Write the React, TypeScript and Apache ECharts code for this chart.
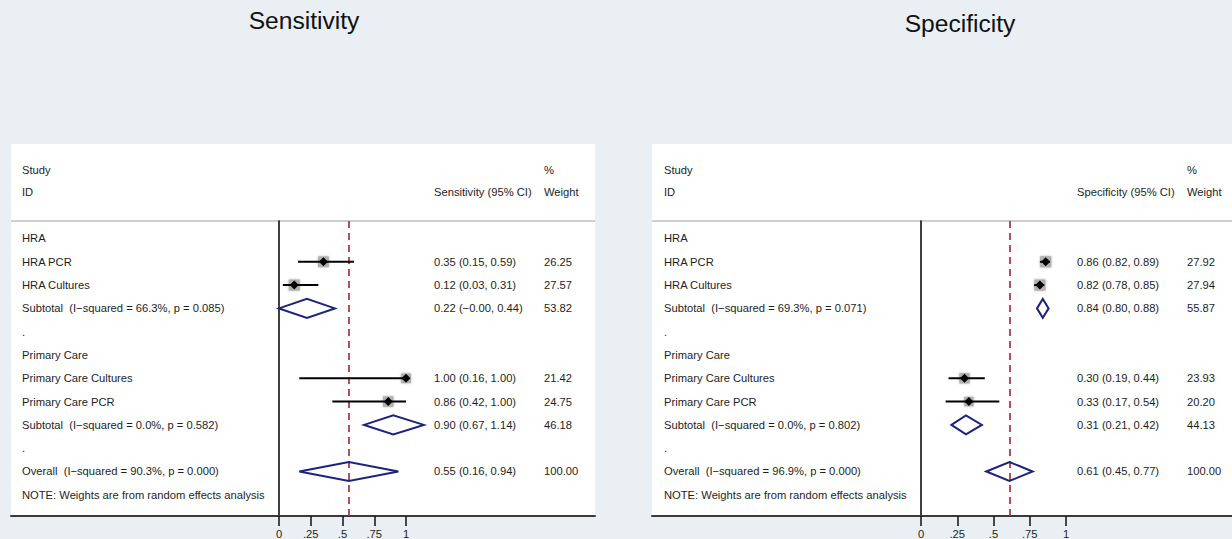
import React, { useEffect, useRef } from "react";
import * as echarts from "echarts";

// ---------- data ----------
const tickValues = [0, 0.25, 0.5, 0.75, 1];
const tickLabels = ["0", ".25", ".5", ".75", "1"];

const sensRowLabels = [
  "HRA",
  "HRA PCR",
  "HRA Cultures",
  "Subtotal  (I−squared = 66.3%, p = 0.085)",
  ".",
  "Primary Care",
  "Primary Care Cultures",
  "Primary Care PCR",
  "Subtotal  (I−squared = 0.0%, p = 0.582)",
  ".",
  "Overall  (I−squared = 90.3%, p = 0.000)",
  "NOTE: Weights are from random effects analysis",
];
const specRowLabels = [
  "HRA",
  "HRA PCR",
  "HRA Cultures",
  "Subtotal  (I−squared = 69.3%, p = 0.071)",
  ".",
  "Primary Care",
  "Primary Care Cultures",
  "Primary Care PCR",
  "Subtotal  (I−squared = 0.0%, p = 0.802)",
  ".",
  "Overall  (I−squared = 96.9%, p = 0.000)",
  "NOTE: Weights are from random effects analysis",
];

// rows (1-based) that carry an estimate, and whether it is a pooled diamond
const markRows = [2, 3, 4, 7, 8, 9, 11];
const markPooled = [0, 0, 1, 0, 0, 1, 1];

const sensEst = [0.35, 0.12, 0.22, 1.0, 0.86, 0.9, 0.55];
const sensLo = [0.15, 0.03, -0.0, 0.16, 0.42, 0.67, 0.16];
const sensHi = [0.59, 0.31, 0.44, 1.0, 1.0, 1.14, 0.94];
const sensWeight = [26.25, 27.57, 53.82, 21.42, 24.75, 46.18, 100.0];

const specEst = [0.86, 0.82, 0.84, 0.3, 0.33, 0.31, 0.61];
const specLo = [0.82, 0.78, 0.8, 0.19, 0.17, 0.21, 0.45];
const specHi = [0.89, 0.85, 0.88, 0.44, 0.54, 0.42, 0.77];
const specWeight = [27.92, 27.94, 55.87, 23.93, 20.2, 44.13, 100.0];

// ---------- styling ----------
const FONT = '"Liberation Sans", Arial, Helvetica, sans-serif';
const TXT = "#1e1e1e";
const NAVY = "#1b237c";
const BG = "#e9eff2";
const FS = 11.2;

function fmt(v: number): string {
  const neg = v < 0 || Object.is(v, -0);
  return (neg ? "−" : "") + Math.abs(v).toFixed(2);
}

type PanelCfg = {
  idx: number;
  title: string;
  titleY: number;
  colHeader: string;
  panelLeft: number;
  panelWidth: number;
  zeroPx: number;
  unitPx: number;
  labelX: number;
  estX: number;
  weightX: number;
  rowLabels: string[];
  est: number[];
  lo: number[];
  hi: number[];
  weight: number[];
};

const GRID_TOP = 221;
const GRID_H = 295;
const PANEL_TOP = 144;
const ROW_PX = 23.3;
const Y_MIN = 0.25;
const Y_MAX = Y_MIN + GRID_H / ROW_PX;

function buildPanel(c: PanelCfg) {
  const xMin = -(c.zeroPx - c.panelLeft) / c.unitPx;
  const xMax = (c.panelLeft + c.panelWidth - c.zeroPx) / c.unitPx;

  const grid = {
    left: c.panelLeft,
    top: GRID_TOP,
    width: c.panelWidth,
    height: GRID_H,
    containLabel: false,
  };
  const xAxis = {
    gridIndex: c.idx,
    type: "value",
    min: xMin,
    max: xMax,
    axisLine: { show: true, onZero: false, lineStyle: { color: "#3a3a3a", width: 2 } },
    axisTick: {
      show: true,
      customValues: tickValues,
      length: 10,
      lineStyle: { color: "#111", width: 1.5 },
    },
    axisLabel: {
      show: true,
      customValues: tickValues,
      margin: 12,
      color: TXT,
      fontFamily: FONT,
      fontSize: FS,
      formatter: (v: number) => {
        const i = tickValues.findIndex((t) => Math.abs(t - v) < 1e-9);
        return i >= 0 ? tickLabels[i] : "";
      },
    },
    splitLine: { show: false },
  };
  const yAxis = {
    gridIndex: c.idx,
    type: "value",
    inverse: true,
    min: Y_MIN,
    max: Y_MAX,
    axisLine: { show: true, onZero: true, lineStyle: { color: "#000", width: 1.5 } },
    axisTick: { show: false },
    axisLabel: { show: false },
    splitLine: { show: false },
  };

  const markData = markRows.map((r, i) => [r, c.est[i], c.lo[i], c.hi[i], c.weight[i], markPooled[i]]);
  const overallIdx = markRows.indexOf(11);

  const marks = {
    type: "custom",
    xAxisIndex: c.idx,
    yAxisIndex: c.idx,
    z: 5,
    silent: true,
    encode: { x: [1, 2, 3], y: 0 },
    data: markData,
    renderItem: (params: any, api: any) => {
      const row = api.value(0);
      const e = api.value(1);
      const lo = api.value(2);
      const hi = api.value(3);
      const w = api.value(4);
      const pooled = api.value(5);
      const ce = api.coord([e, row]);
      const cl = api.coord([lo, row]);
      const ch = api.coord([hi, row]);
      const y = ce[1];
      if (pooled === 1) {
        return {
          type: "polygon",
          shape: {
            points: [
              [cl[0], y],
              [ce[0], y - 9.5],
              [ch[0], y],
              [ce[0], y + 9.5],
            ],
          },
          style: { fill: "none", stroke: NAVY, lineWidth: 2 },
        };
      }
      const s = 10.5 * Math.sqrt(w / 25);
      return {
        type: "group",
        children: [
          {
            type: "rect",
            shape: { x: ce[0] - s / 2, y: y - s / 2, width: s, height: s },
            style: { fill: "#b0b0b0", shadowBlur: 2, shadowColor: "rgba(120,120,120,0.6)" },
          },
          {
            type: "line",
            shape: { x1: cl[0], y1: y, x2: ch[0], y2: y },
            style: { stroke: "#000", lineWidth: 2 },
          },
          {
            type: "polygon",
            shape: {
              points: [
                [ce[0] - 4.5, y],
                [ce[0], y - 4.5],
                [ce[0] + 4.5, y],
                [ce[0], y + 4.5],
              ],
            },
            style: { fill: "#000" },
          },
        ],
      };
    },
    markLine: {
      silent: true,
      symbol: "none",
      label: { show: false },
      lineStyle: { color: "#a8323f", width: 1.7, type: [7, 5] },
      data: [{ xAxis: c.est[overallIdx] }],
    },
  };

  const textSeries = {
    type: "custom",
    xAxisIndex: c.idx,
    yAxisIndex: c.idx,
    z: 4,
    silent: true,
    encode: { x: 0, y: 1 },
    data: c.rowLabels.map((_, i) => [0, i + 1]),
    renderItem: (params: any, api: any) => {
      const i = params.dataIndex;
      const row = api.value(1);
      const y = api.coord([0, row])[1];
      const base = { fill: TXT, fontFamily: FONT, fontSize: FS, verticalAlign: "middle", align: "left" };
      const children: any[] = [
        { type: "text", x: c.labelX, y, style: { ...base, text: c.rowLabels[i] } },
      ];
      const m = markRows.indexOf(row);
      if (m >= 0) {
        children.push({
          type: "text",
          x: c.estX,
          y,
          style: { ...base, text: `${fmt(c.est[m])} (${fmt(c.lo[m])}, ${fmt(c.hi[m])})` },
        });
        children.push({
          type: "text",
          x: c.weightX,
          y,
          style: { ...base, text: c.weight[m].toFixed(2) },
        });
      }
      return { type: "group", children };
    },
  };

  const hdr = { fill: TXT, fontFamily: FONT, fontSize: FS, verticalAlign: "middle", align: "left" };
  const graphics = [
    {
      type: "rect",
      z: -10,
      silent: true,
      shape: { x: c.panelLeft, y: PANEL_TOP, width: c.panelWidth, height: GRID_TOP + GRID_H - PANEL_TOP },
      style: { fill: "#ffffff" },
    },
    {
      type: "line",
      z: -5,
      silent: true,
      shape: { x1: c.panelLeft, y1: GRID_TOP, x2: c.panelLeft + c.panelWidth, y2: GRID_TOP },
      style: { stroke: "#cdd0d2", lineWidth: 2 },
    },
    { type: "text", x: c.labelX, y: 170, style: { ...hdr, text: "Study" } },
    { type: "text", x: c.labelX, y: 192, style: { ...hdr, text: "ID" } },
    { type: "text", x: c.estX, y: 192, style: { ...hdr, text: c.colHeader } },
    { type: "text", x: c.weightX, y: 170, style: { ...hdr, text: "%" } },
    { type: "text", x: c.weightX, y: 192, style: { ...hdr, text: "Weight" } },
    {
      type: "text",
      x: c.idx === 0 ? 304 : 960,
      y: c.titleY,
      style: { fill: "#111", fontFamily: FONT, fontSize: 24.6, align: "center", verticalAlign: "middle", text: c.title },
    },
  ];

  return { grid, xAxis, yAxis, series: [textSeries, marks], graphics };
}

const panels: PanelCfg[] = [
  {
    idx: 0,
    title: "Sensitivity",
    titleY: 20,
    colHeader: "Sensitivity (95% CI)",
    panelLeft: 11,
    panelWidth: 584,
    zeroPx: 279,
    unitPx: 127,
    labelX: 22,
    estX: 434,
    weightX: 544,
    rowLabels: sensRowLabels,
    est: sensEst,
    lo: sensLo,
    hi: sensHi,
    weight: sensWeight,
  },
  {
    idx: 1,
    title: "Specificity",
    titleY: 23.5,
    colHeader: "Specificity (95% CI)",
    panelLeft: 652,
    panelWidth: 580,
    zeroPx: 921,
    unitPx: 145,
    labelX: 664,
    estX: 1077,
    weightX: 1187,
    rowLabels: specRowLabels,
    est: specEst,
    lo: specLo,
    hi: specHi,
    weight: specWeight,
  },
];

export default function App() {
  const ref = useRef<HTMLDivElement>(null);
  useEffect(() => {
    if (!ref.current) return;
    const chart = echarts.init(ref.current, undefined, { renderer: "svg" });
    const built = panels.map(buildPanel);
    chart.setOption({
      animation: false,
      backgroundColor: BG,
      grid: built.map((b) => b.grid),
      xAxis: built.map((b) => b.xAxis),
      yAxis: built.map((b) => b.yAxis),
      series: built.flatMap((b) => b.series),
      graphic: { elements: built.flatMap((b) => b.graphics) },
    });
    return () => chart.dispose();
  }, []);
  return (
    <div
      ref={ref}
      style={{ position: "fixed", left: 0, top: 0, width: 1232, height: 539 }}
    />
  );
}
